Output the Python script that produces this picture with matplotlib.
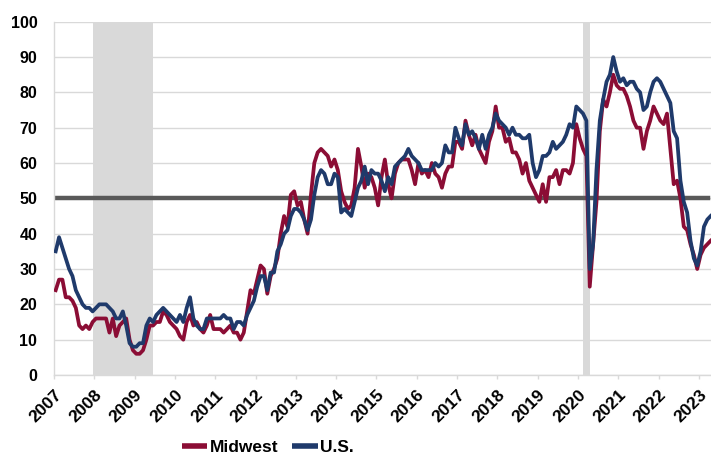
import numpy as np
import matplotlib
matplotlib.use('Agg')
import matplotlib.pyplot as plt

plt.rcParams['font.family'] = ['Liberation Sans', 'DejaVu Sans']
plt.rcParams['font.weight'] = 'bold'

# monthly index values, Jan 2007 - Apr 2023
midwest = [
    24, 27, 27, 22, 22, 21, 19, 14, 13, 14, 13, 15,   # 2007
    16, 16, 16, 16, 12, 16, 11, 14, 15, 16, 10, 7,    # 2008
    6, 6, 7, 10, 14, 14, 15, 15, 18, 17, 15, 14,      # 2009
    13, 11, 10, 15, 17, 14, 15, 13, 12, 14, 17, 13,   # 2010
    13, 13, 12, 13, 14, 12, 12, 10, 12, 18, 24, 23,   # 2011
    27, 31, 30, 23, 28, 30, 33, 40, 45, 42, 51, 52,   # 2012
    48, 49, 44, 40, 51, 60, 63, 64, 63, 62, 59, 61,   # 2013
    58, 52, 49, 47, 48, 53, 64, 59, 53, 57, 56, 53,   # 2014
    48, 56, 61, 54, 50, 57, 60, 61, 61, 61, 58, 54,   # 2015
    60, 57, 58, 56, 60, 57, 56, 53, 57, 59, 59, 66,   # 2016
    66, 64, 72, 68, 65, 68, 64, 62, 60, 66, 69, 76,   # 2017
    70, 70, 66, 67, 63, 63, 61, 57, 60, 55, 53, 51,   # 2018
    49, 54, 49, 56, 56, 58, 54, 58, 58, 57, 60, 71,   # 2019
    67, 64, 62, 25, 37, 49, 69, 78, 76, 80, 85, 82,   # 2020
    81, 81, 79, 76, 72, 70, 70, 64, 69, 72, 76, 74,   # 2021
    72, 71, 74, 64, 54, 55, 50, 42, 41, 37, 34, 30,   # 2022
    34, 36, 37, 38,                                   # 2023
]
us = [
    35, 39, 36, 33, 30, 28, 24, 22, 20, 19, 19, 18,   # 2007
    19, 20, 20, 20, 19, 18, 16, 16, 18, 14, 9, 8,     # 2008
    8, 9, 9, 14, 16, 15, 17, 18, 19, 18, 17, 16,      # 2009
    15, 17, 15, 19, 22, 16, 14, 13, 13, 16, 16, 16,   # 2010
    16, 16, 17, 16, 16, 13, 15, 15, 14, 17, 19, 21,   # 2011
    25, 28, 28, 24, 29, 29, 35, 37, 40, 41, 45, 47,   # 2012
    47, 46, 44, 41, 44, 51, 56, 58, 57, 54, 54, 57,   # 2013
    56, 46, 47, 46, 45, 49, 53, 55, 59, 54, 58, 57,   # 2014
    57, 55, 52, 56, 54, 59, 60, 61, 62, 64, 62, 61,   # 2015
    60, 58, 58, 58, 58, 60, 59, 60, 65, 63, 63, 70,   # 2016
    67, 65, 71, 68, 69, 67, 64, 68, 64, 68, 70, 74,   # 2017
    72, 71, 70, 68, 70, 68, 68, 67, 67, 68, 60, 56,   # 2018
    58, 62, 62, 63, 66, 64, 65, 66, 68, 71, 70, 76,   # 2019
    75, 74, 72, 30, 37, 58, 72, 78, 83, 85, 90, 86,   # 2020
    83, 84, 82, 83, 83, 81, 80, 75, 76, 80, 83, 84,   # 2021
    83, 81, 79, 77, 69, 67, 55, 49, 46, 38, 33, 31,   # 2022
    35, 42, 44, 45,                                   # 2023
]
# recessions as (start year, start month, end year, end month)
recessions = [(2007, 12, 2009, 6), (2020, 2, 2020, 4)]
years = list(range(2007, 2024))

t = 2007 + (np.arange(len(us)) + 0.5) / 12

fig = plt.figure(figsize=(7.11, 4.58), dpi=100)
ax = fig.add_axes([54 / 711, 1 - 375 / 458, 1 - 54 / 711, (375 - 21.7) / 458])

for y0, m0, y1, m1 in recessions:
    ax.axvspan(y0 + (m0 - 0.5) / 12, y1 + (m1 - 0.5) / 12, color='#D9D9D9', lw=0, zorder=1)

ax.set_yticks(range(0, 101, 10))
ax.yaxis.grid(True, color='#D9D9D9', lw=1.0, zorder=0)
ax.set_axisbelow(True)

ax.axhline(50, color='#595959', lw=3.2, zorder=2, xmax=0.995)
ax.plot(t, midwest, color='#8B0D35', lw=2.7, label='Midwest', zorder=3, solid_joinstyle='round')
ax.plot(t, us, color='#1F3A6B', lw=2.7, label='U.S.', zorder=4, solid_joinstyle='round')

ax.set_xlim(2007, 2023.3)
ax.set_ylim(0, 100)
ax.set_xticks(years)
ax.set_xticklabels([str(y) for y in years], rotation=45, ha='right', va='top',
                   rotation_mode='anchor', fontsize=12.5, fontweight='bold')
ax.tick_params(axis='x', length=3, color='#D9D9D9', width=1, pad=6)
ax.tick_params(axis='y', length=0, labelsize=11.5, pad=12)
for lab in ax.get_yticklabels():
    lab.set_fontweight('bold')

for side in ['top', 'right']:
    ax.spines[side].set_visible(False)
ax.spines['left'].set_color('#D9D9D9')
ax.spines['bottom'].set_color('#D9D9D9')
ax.spines['left'].set_linewidth(1)
ax.spines['bottom'].set_linewidth(1)

leg = fig.legend(loc='center', bbox_to_anchor=(268 / 711, 1 - 447 / 458), ncol=2, frameon=False,
                 handlelength=1.45, handletextpad=0.15, columnspacing=0.8,
                 prop={'size': 12.5, 'weight': 'bold'})
for h in leg.legend_handles:
    h.set_linewidth(4)
    h.set_solid_capstyle('butt')

plt.savefig('out.png', dpi=100)
